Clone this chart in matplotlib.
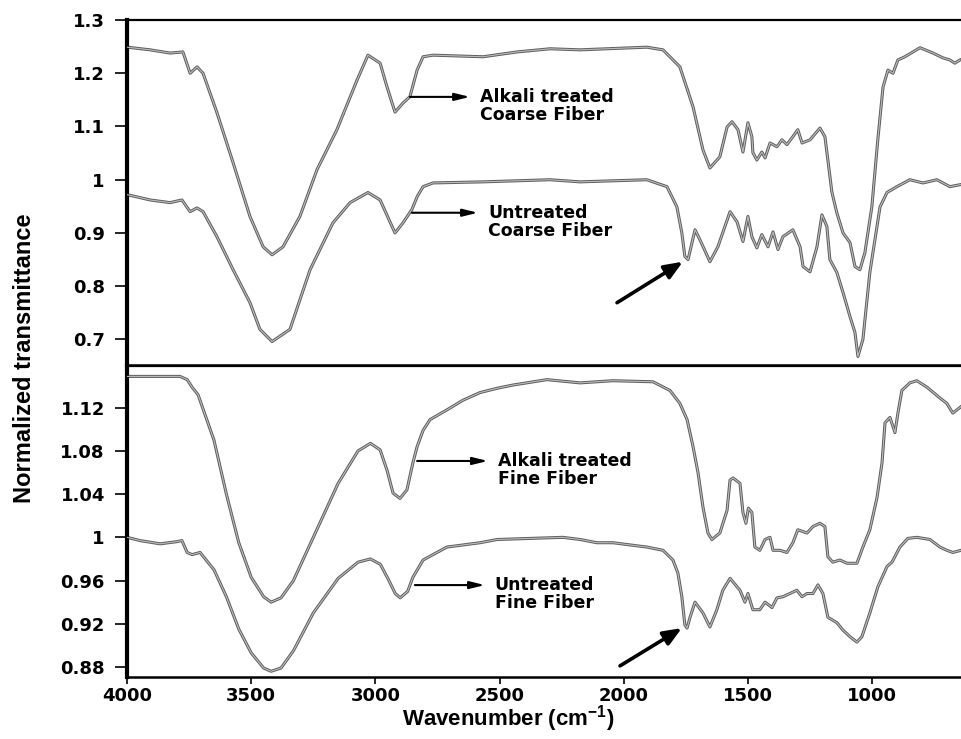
import matplotlib
matplotlib.use("Agg")
import matplotlib.pyplot as plt

plt.rcParams["mathtext.default"] = "regular"

# ── Data ──────────────────────────────────────────────────────────────────────
# top panel: coarse fiber
wn_ct = [4000, 3907, 3827, 3775, 3746, 3718, 3694, 3638, 3573, 3505, 3452, 3416,
         3372, 3304, 3235, 3155, 3074, 3030, 2981, 2953, 2921, 2889, 2861, 2832,
         2808, 2768, 2567, 2430, 2297, 2176, 1907, 1842, 1774, 1721, 1681, 1653,
         1613, 1584, 1564, 1540, 1520, 1500, 1484, 1480, 1464, 1444, 1431, 1411,
         1383, 1363, 1343, 1319, 1299, 1282, 1250, 1210, 1190, 1178, 1162, 1142,
         1117, 1089, 1069, 1049, 1029, 1001, 977, 956, 936, 916, 896, 868, 807,
         755, 715, 687, 667, 646]
t_ct = [1.249, 1.244, 1.238, 1.240, 1.200, 1.212, 1.200, 1.126, 1.032, 0.931,
        0.874, 0.859, 0.874, 0.931, 1.019, 1.094, 1.187, 1.234, 1.219, 1.174,
        1.127, 1.144, 1.156, 1.206, 1.231, 1.234, 1.231, 1.240, 1.246, 1.244,
        1.249, 1.244, 1.212, 1.137, 1.056, 1.022, 1.043, 1.099, 1.109, 1.094,
        1.052, 1.107, 1.081, 1.051, 1.037, 1.052, 1.041, 1.069, 1.062, 1.075,
        1.066, 1.081, 1.094, 1.069, 1.075, 1.097, 1.081, 1.037, 0.977, 0.938,
        0.900, 0.882, 0.837, 0.831, 0.863, 0.949, 1.075, 1.174, 1.206, 1.200,
        1.225, 1.231, 1.248, 1.238, 1.229, 1.225, 1.219, 1.225]

wn_cu = [4000, 3907, 3827, 3779, 3746, 3718, 3694, 3638, 3573, 3505, 3465, 3416,
         3344, 3263, 3171, 3102, 3030, 2981, 2921, 2889, 2853, 2832, 2808, 2768,
         2567, 2297, 2176, 1907, 1826, 1786, 1766, 1754, 1741, 1713, 1693, 1653,
         1621, 1572, 1544, 1520, 1500, 1484, 1464, 1444, 1419, 1399, 1379, 1359,
         1319, 1290, 1278, 1250, 1222, 1202, 1182, 1170, 1142, 1117, 1089, 1069,
         1057, 1037, 1009, 968, 940, 900, 848, 795, 739, 687, 642]
t_cu = [0.972, 0.962, 0.957, 0.962, 0.940, 0.947, 0.940, 0.893, 0.831, 0.769,
        0.719, 0.696, 0.719, 0.831, 0.919, 0.957, 0.976, 0.962, 0.900, 0.919,
        0.944, 0.968, 0.987, 0.994, 0.996, 1.000, 0.996, 1.000, 0.987, 0.949,
        0.900, 0.856, 0.850, 0.906, 0.887, 0.846, 0.874, 0.940, 0.921, 0.884,
        0.931, 0.893, 0.872, 0.897, 0.874, 0.902, 0.869, 0.893, 0.906, 0.874,
        0.837, 0.827, 0.874, 0.934, 0.912, 0.850, 0.826, 0.788, 0.743, 0.713,
        0.668, 0.700, 0.826, 0.949, 0.976, 0.987, 1.000, 0.994, 1.000, 0.987,
        0.991]

# bottom panel: fine fiber
wn_ft = [4000, 3787, 3758, 3738, 3714, 3650, 3600, 3550, 3500, 3450, 3420, 3380,
         3330, 3250, 3150, 3070, 3020, 2981, 2953, 2929, 2901, 2873, 2849, 2832,
         2808, 2780, 2712, 2647, 2579, 2510, 2446, 2309, 2176, 2043, 1882, 1814,
         1774, 1745, 1721, 1701, 1681, 1661, 1645, 1613, 1584, 1572, 1560, 1532,
         1520, 1508, 1498, 1484, 1472, 1452, 1431, 1411, 1399, 1371, 1343, 1319,
         1299, 1262, 1238, 1210, 1190, 1178, 1158, 1130, 1101, 1061, 1037, 1009,
         980, 960, 948, 928, 908, 896, 880, 848, 820, 779, 727, 699, 675, 642]
t_ft = [1.149, 1.149, 1.146, 1.139, 1.132, 1.090, 1.040, 0.995, 0.963, 0.945,
        0.940, 0.944, 0.960, 1.000, 1.050, 1.080, 1.087, 1.081, 1.062, 1.041,
        1.036, 1.044, 1.069, 1.084, 1.099, 1.109, 1.118, 1.127, 1.134, 1.138,
        1.141, 1.146, 1.143, 1.145, 1.144, 1.136, 1.124, 1.109, 1.084, 1.060,
        1.028, 1.004, 0.998, 1.004, 1.025, 1.053, 1.055, 1.050, 1.023, 1.013,
        1.027, 1.023, 0.991, 0.988, 0.998, 1.000, 0.988, 0.988, 0.986, 0.995,
        1.007, 1.004, 1.010, 1.013, 1.010, 0.982, 0.977, 0.979, 0.976, 0.976,
        0.991, 1.007, 1.037, 1.069, 1.106, 1.111, 1.097, 1.115, 1.136, 1.143,
        1.145, 1.139, 1.129, 1.124, 1.115, 1.121]

wn_fu = [4000, 3948, 3867, 3799, 3779, 3758, 3738, 3706, 3650, 3600, 3550, 3500,
         3450, 3420, 3380, 3330, 3250, 3150, 3070, 3020, 2980, 2950, 2920, 2900,
         2870, 2849, 2808, 2712, 2579, 2510, 2378, 2245, 2176, 2108, 2043, 1907,
         1842, 1802, 1782, 1766, 1754, 1745, 1733, 1713, 1681, 1653, 1625, 1601,
         1572, 1532, 1512, 1500, 1480, 1452, 1431, 1403, 1383, 1359, 1331, 1303,
         1282, 1262, 1238, 1218, 1198, 1178, 1142, 1117, 1089, 1061, 1041, 1009,
         977, 940, 920, 888, 856, 820, 767, 727, 699, 675, 642]
t_fu = [1.000, 0.997, 0.994, 0.996, 0.997, 0.986, 0.984, 0.986, 0.970, 0.945,
        0.915, 0.893, 0.879, 0.876, 0.879, 0.895, 0.930, 0.962, 0.977, 0.980,
        0.975, 0.962, 0.948, 0.944, 0.950, 0.963, 0.979, 0.991, 0.995, 0.998,
        0.999, 1.000, 0.998, 0.995, 0.995, 0.991, 0.988, 0.979, 0.967, 0.945,
        0.919, 0.916, 0.926, 0.940, 0.930, 0.917, 0.933, 0.951, 0.962, 0.951,
        0.940, 0.948, 0.933, 0.933, 0.940, 0.935, 0.944, 0.945, 0.948, 0.951,
        0.945, 0.948, 0.948, 0.956, 0.948, 0.926, 0.921, 0.914, 0.908, 0.903,
        0.908, 0.930, 0.954, 0.973, 0.977, 0.991, 0.999, 1.000, 0.998, 0.991,
        0.988, 0.986, 0.988]

x_ticks = [4000, 3500, 3000, 2500, 2000, 1500, 1000]
top_ticks = [0.7, 0.8, 0.9, 1.0, 1.1, 1.2, 1.3]
top_labels = ["0.7", "0.8", "0.9", "1", "1.1", "1.2", "1.3"]
bot_ticks = [0.88, 0.92, 0.96, 1.0, 1.04, 1.08, 1.12]
bot_labels = ["0.88", "0.92", "0.96", "1", "1.04", "1.08", "1.12"]

TICKFONT = dict(family="DejaVu Sans", weight="bold", size=13)
NOTEFONT = dict(family="DejaVu Sans", weight="bold", size=12.5)

fig = plt.figure(figsize=(9.61, 7.39), dpi=100)
fig.patch.set_facecolor("white")
ax_top = fig.add_axes([0.1322, 0.5061, 0.8678, 0.4668])
ax_bot = fig.add_axes([0.1322, 0.0839, 0.8678, 0.4208])


def spectrum(ax, wn, t):
    ax.plot(wn, t, color="#5e5e5e", lw=2.2, solid_joinstyle="round", zorder=2)
    ax.plot(wn, t, color="#bcbcbc", lw=0.8, solid_joinstyle="round", zorder=3)


def style(ax, yt, yl, ylim, bottom_labels):
    ax.set_xlim(4000, 642)
    ax.set_ylim(*ylim)
    ax.set_xticks(x_ticks)
    ax.set_yticks(yt)
    ax.set_yticklabels(yl, fontdict=TICKFONT)
    ax.spines["right"].set_visible(False)
    ax.spines["left"].set_linewidth(3.0)
    ax.spines["top"].set_linewidth(1.6)
    ax.spines["bottom"].set_linewidth(1.8)
    ax.tick_params(axis="y", direction="out", length=9, width=1.2, pad=7)
    if bottom_labels:
        ax.set_xticklabels([str(v) for v in x_ticks], fontdict=TICKFONT)
        ax.tick_params(axis="x", direction="out", length=5, width=1.2, pad=2)
    else:
        ax.tick_params(axis="x", direction="out", length=2, width=1.0,
                       labelbottom=False)


def side_note(ax, x0, x1, y, text, ty):
    ax.annotate("", xy=(x1, y), xytext=(x0, y),
                arrowprops=dict(arrowstyle="-|>,head_length=0.9,head_width=0.22",
                                color="black", lw=1.5, shrinkA=0, shrinkB=0),
                zorder=5)
    ax.text(x1 - 40, ty, text, ha="left", va="center", linespacing=1.0,
            zorder=5, **NOTEFONT)


def big_arrow(ax, tail, tip):
    ax.annotate("", xy=tip, xytext=tail,
                arrowprops=dict(arrowstyle="-|>,head_length=1.1,head_width=0.45",
                                color="black", lw=2.6, shrinkA=0, shrinkB=0),
                zorder=5)


# ── Top panel ─────────────────────────────────────────────────────────────────
spectrum(ax_top, wn_ct, t_ct)
spectrum(ax_top, wn_cu, t_cu)
style(ax_top, top_ticks, top_labels, (0.652, 1.3), False)
side_note(ax_top, 2861, 2619, 1.1556, "Alkali treated\nCoarse Fiber", 1.139)
side_note(ax_top, 2853, 2587, 0.938, "Untreated\nCoarse Fiber", 0.920)
big_arrow(ax_top, (2027, 0.769), (1762, 0.846))

# ── Bottom panel ──────────────────────────────────────────────────────────────
spectrum(ax_bot, wn_ft, t_ft)
spectrum(ax_bot, wn_fu, t_fu)
style(ax_bot, bot_ticks, bot_labels, (0.8707, 1.1586), True)
side_note(ax_bot, 2832, 2547, 1.0707, "Alkali treated\nFine Fiber", 1.0623)
side_note(ax_bot, 2841, 2559, 0.9558, "Untreated\nFine Fiber", 0.9475)
big_arrow(ax_bot, (2015, 0.881), (1766, 0.916))

# ── Axis titles ───────────────────────────────────────────────────────────────
fig.text(0.026, 0.515, "Normalized transmittance", rotation=90,
         ha="center", va="center", family="Liberation Sans",
         weight="bold", size=17)
fig.text(0.529, 0.027, "Wavenumber (cm$^{-1}$)", ha="center", va="center",
         family="Liberation Sans", weight="bold", size=16)

fig.savefig("out.png", dpi=100, facecolor="white")
